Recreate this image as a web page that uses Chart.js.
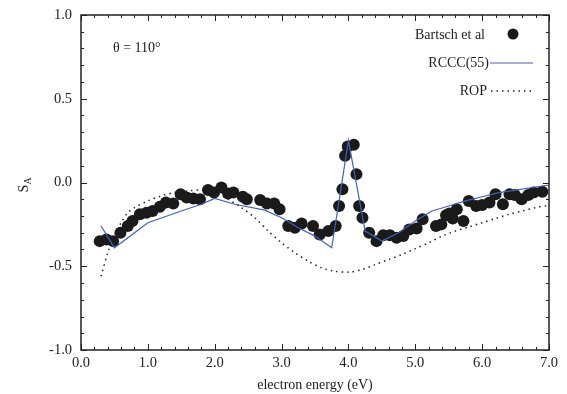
<!DOCTYPE html>
<html>
<head>
<meta charset="utf-8">
<script src="https://cdn.jsdelivr.net/npm/chart.js@4/dist/chart.umd.min.js"></script>
<style>
  html, body { margin: 0; padding: 0; background: #fff; }
  #wrap { width: 567px; height: 394px; }
</style>
</head>
<body>
<div id="wrap"><canvas id="myChart" width="567" height="394"></canvas></div>
<script>
// measured points (Bartsch et al)
var bartschE = [0.28,0.38,0.48,0.59,0.70,0.77,0.88,0.98,1.07,1.18,1.27,1.38,1.49,1.58,1.68,1.78,1.90,1.99,2.10,2.20,
  2.28,2.42,2.48,2.68,2.78,2.89,2.97,3.10,3.20,3.30,3.47,3.57,3.70,3.81,3.86,3.91,3.95,3.99,4.08,4.12,4.16,4.21,4.31,4.42,
  4.52,4.62,4.72,4.82,4.91,5.02,5.11,5.31,5.39,5.46,5.51,5.56,5.62,5.72,5.80,5.91,6.00,6.11,6.20,6.31,6.41,6.49,6.59,6.69,6.77,6.90];
var bartschSA = [-0.35,-0.34,-0.35,-0.30,-0.26,-0.23,-0.19,-0.18,-0.17,-0.145,-0.12,-0.125,-0.07,-0.09,-0.095,-0.10,-0.045,-0.06,-0.03,-0.065,
  -0.06,-0.085,-0.10,-0.105,-0.125,-0.125,-0.16,-0.26,-0.27,-0.245,-0.26,-0.31,-0.29,-0.26,-0.14,-0.04,0.16,0.215,0.225,0.05,-0.14,-0.21,-0.30,-0.35,
  -0.315,-0.315,-0.33,-0.32,-0.28,-0.275,-0.22,-0.26,-0.25,-0.195,-0.185,-0.215,-0.16,-0.23,-0.11,-0.14,-0.135,-0.12,-0.07,-0.13,-0.07,-0.075,-0.10,-0.075,-0.06,-0.055];

// RCCC(55)
var rcccE = [0.3,0.5,1.0,1.5,1.8,2.0,2.3,2.75,3.0,3.25,3.5,3.75,4.0,4.25,4.5,4.75,5.0,5.25,5.5,5.75,6.0,6.25,6.5,6.75,7.0];
var rcccSA = [-0.26,-0.39,-0.24,-0.17,-0.13,-0.095,-0.13,-0.165,-0.21,-0.27,-0.32,-0.39,0.25,-0.29,-0.35,-0.30,-0.23,-0.17,-0.14,-0.11,-0.085,-0.06,-0.045,-0.03,-0.015];

// ROP
var ropE = [0.3,0.4,0.5,0.6,0.7,0.8,1.0,1.2,1.4,1.6,1.8,2.0,2.2,2.4,2.6,2.8,3.0,3.2,3.4,3.6,3.8,4.0,4.2,4.4,4.6,4.8,5.0,5.2,5.4,5.6,5.8,6.0,6.2,6.4,6.6,6.8,7.0];
var ropSA = [-0.56,-0.42,-0.32,-0.24,-0.18,-0.15,-0.11,-0.08,-0.06,-0.05,-0.045,-0.06,-0.10,-0.15,-0.21,-0.29,-0.36,-0.42,-0.47,-0.51,-0.53,-0.535,-0.52,-0.49,-0.46,-0.43,-0.395,-0.36,-0.32,-0.29,-0.265,-0.24,-0.215,-0.19,-0.17,-0.15,-0.135];

var xTicks = [0,1,2,3,4,5,6,7];
var yTicks = [-1.0,-0.5,0.0,0.5,1.0];

function pts(xs, ys) {
  return xs.map(function (x, i) { return { x: x, y: ys[i] }; });
}

var serif = "'Liberation Serif', 'DejaVu Serif', serif";
var ink = '#222';

// inward ticks on all four sides, box, legend and labels
var decor = {
  id: 'decor',
  afterDraw: function (chart) {
    var c = chart.ctx, a = chart.chartArea;
    var xs = chart.scales.x, ys = chart.scales.y;
    c.save();
    c.strokeStyle = ink;
    c.lineWidth = 1.5;
    c.strokeRect(a.left, a.top, a.right - a.left, a.bottom - a.top);
    c.lineWidth = 1;
    c.beginPath();
    for (var i = 0; i <= 35; i++) {
      var v = i * 0.2;
      var px = Math.round(xs.getPixelForValue(v)) + 0.5;
      var len = (i % 5 === 0) ? 6 : 3;
      c.moveTo(px, a.bottom); c.lineTo(px, a.bottom - len);
      c.moveTo(px, a.top); c.lineTo(px, a.top + len);
    }
    for (var j = 0; j <= 20; j++) {
      var w = -1 + j * 0.1;
      var py = Math.round(ys.getPixelForValue(w)) + 0.5;
      var l2 = (j % 5 === 0) ? 6 : 3;
      c.moveTo(a.left, py); c.lineTo(a.left + l2, py);
      c.moveTo(a.right, py); c.lineTo(a.right - l2, py);
    }
    c.stroke();

    // y axis title S_A
    c.fillStyle = ink;
    c.translate(28, (a.top + a.bottom) / 2 + 2);
    c.rotate(-Math.PI / 2);
    c.font = '14px ' + serif;
    c.textAlign = 'left';
    c.textBaseline = 'alphabetic';
    c.fillText('S', -8, 0);
    c.font = '10px ' + serif;
    c.fillText('A', 0, 3);
    c.restore();

    c.save();
    c.fillStyle = ink;
    c.font = '14px ' + serif;
    c.textBaseline = 'middle';
    c.textAlign = 'left';
    c.fillText('\u03b8 = 110\u00b0', 113, 48);

    // legend
    c.textAlign = 'right';
    c.fillText('Bartsch et al', 485, 35);
    c.fillText('RCCC(55)', 489, 63);
    c.fillText('ROP', 487, 91);
    c.beginPath();
    c.arc(513, 34, 5.5, 0, Math.PI * 2);
    c.fillStyle = '#1a1a1a';
    c.fill();
    c.strokeStyle = '#4062b8';
    c.lineWidth = 1.2;
    c.beginPath();
    c.moveTo(490, 63); c.lineTo(533, 63);
    c.stroke();
    c.strokeStyle = '#222';
    c.lineWidth = 1.5;
    c.setLineDash([1.5, 4]);
    c.beginPath();
    c.moveTo(491, 91); c.lineTo(534, 91);
    c.stroke();
    c.restore();
  }
};

new Chart(document.getElementById('myChart').getContext('2d'), {
  type: 'scatter',
  data: {
    datasets: [{
      label: 'ROP',
      data: pts(ropE, ropSA),
      showLine: true,
      borderColor: '#222',
      borderWidth: 1.5,
      borderDash: [1.5, 4],
      pointRadius: 0,
      tension: 0.3,
      order: 3
    }, {
      label: 'Bartsch et al',
      data: pts(bartschE, bartschSA),
      showLine: false,
      backgroundColor: '#1a1a1a',
      borderColor: '#1a1a1a',
      pointRadius: 6,
      borderWidth: 0,
      order: 2
    }, {
      label: 'RCCC(55)',
      data: pts(rcccE, rcccSA),
      showLine: true,
      borderColor: '#4062b8',
      borderWidth: 1.2,
      pointRadius: 0,
      tension: 0,
      order: 1
    }]
  },
  options: {
    responsive: false,
    animation: false,
    layout: { padding: { left: 0, top: 15, right: 18, bottom: 0 } },
    plugins: { legend: { display: false }, tooltip: { enabled: false } },
    scales: {
      x: {
        type: 'linear', min: 0, max: 7,
        afterBuildTicks: function (s) { s.ticks = xTicks.map(function (v) { return { value: v }; }); },
        afterFit: function (s) { s.height = 44; s.paddingLeft = 0; s.paddingRight = 0; },
        ticks: { color: ink, font: { family: serif, size: 14.5 }, padding: 4, maxRotation: 0,
          callback: function (v) { return v.toFixed(1); } },
        grid: { display: false, drawTicks: false, tickLength: 0 },
        border: { display: false },
        title: { display: true, text: 'electron energy (eV)', color: ink, font: { family: serif, size: 14 }, padding: { top: 0, bottom: 0 } }
      },
      y: {
        type: 'linear', min: -1, max: 1,
        afterBuildTicks: function (s) { s.ticks = yTicks.map(function (v) { return { value: v }; }); },
        afterFit: function (s) { s.width = 81; s.paddingTop = 0; s.paddingBottom = 0; },
        ticks: { color: ink, font: { family: serif, size: 14.5 }, padding: 9,
          callback: function (v) { return v.toFixed(1); } },
        grid: { display: false, drawTicks: false, tickLength: 0 },
        border: { display: false }
      }
    }
  },
  plugins: [decor]
});
</script>
</body>
</html>
